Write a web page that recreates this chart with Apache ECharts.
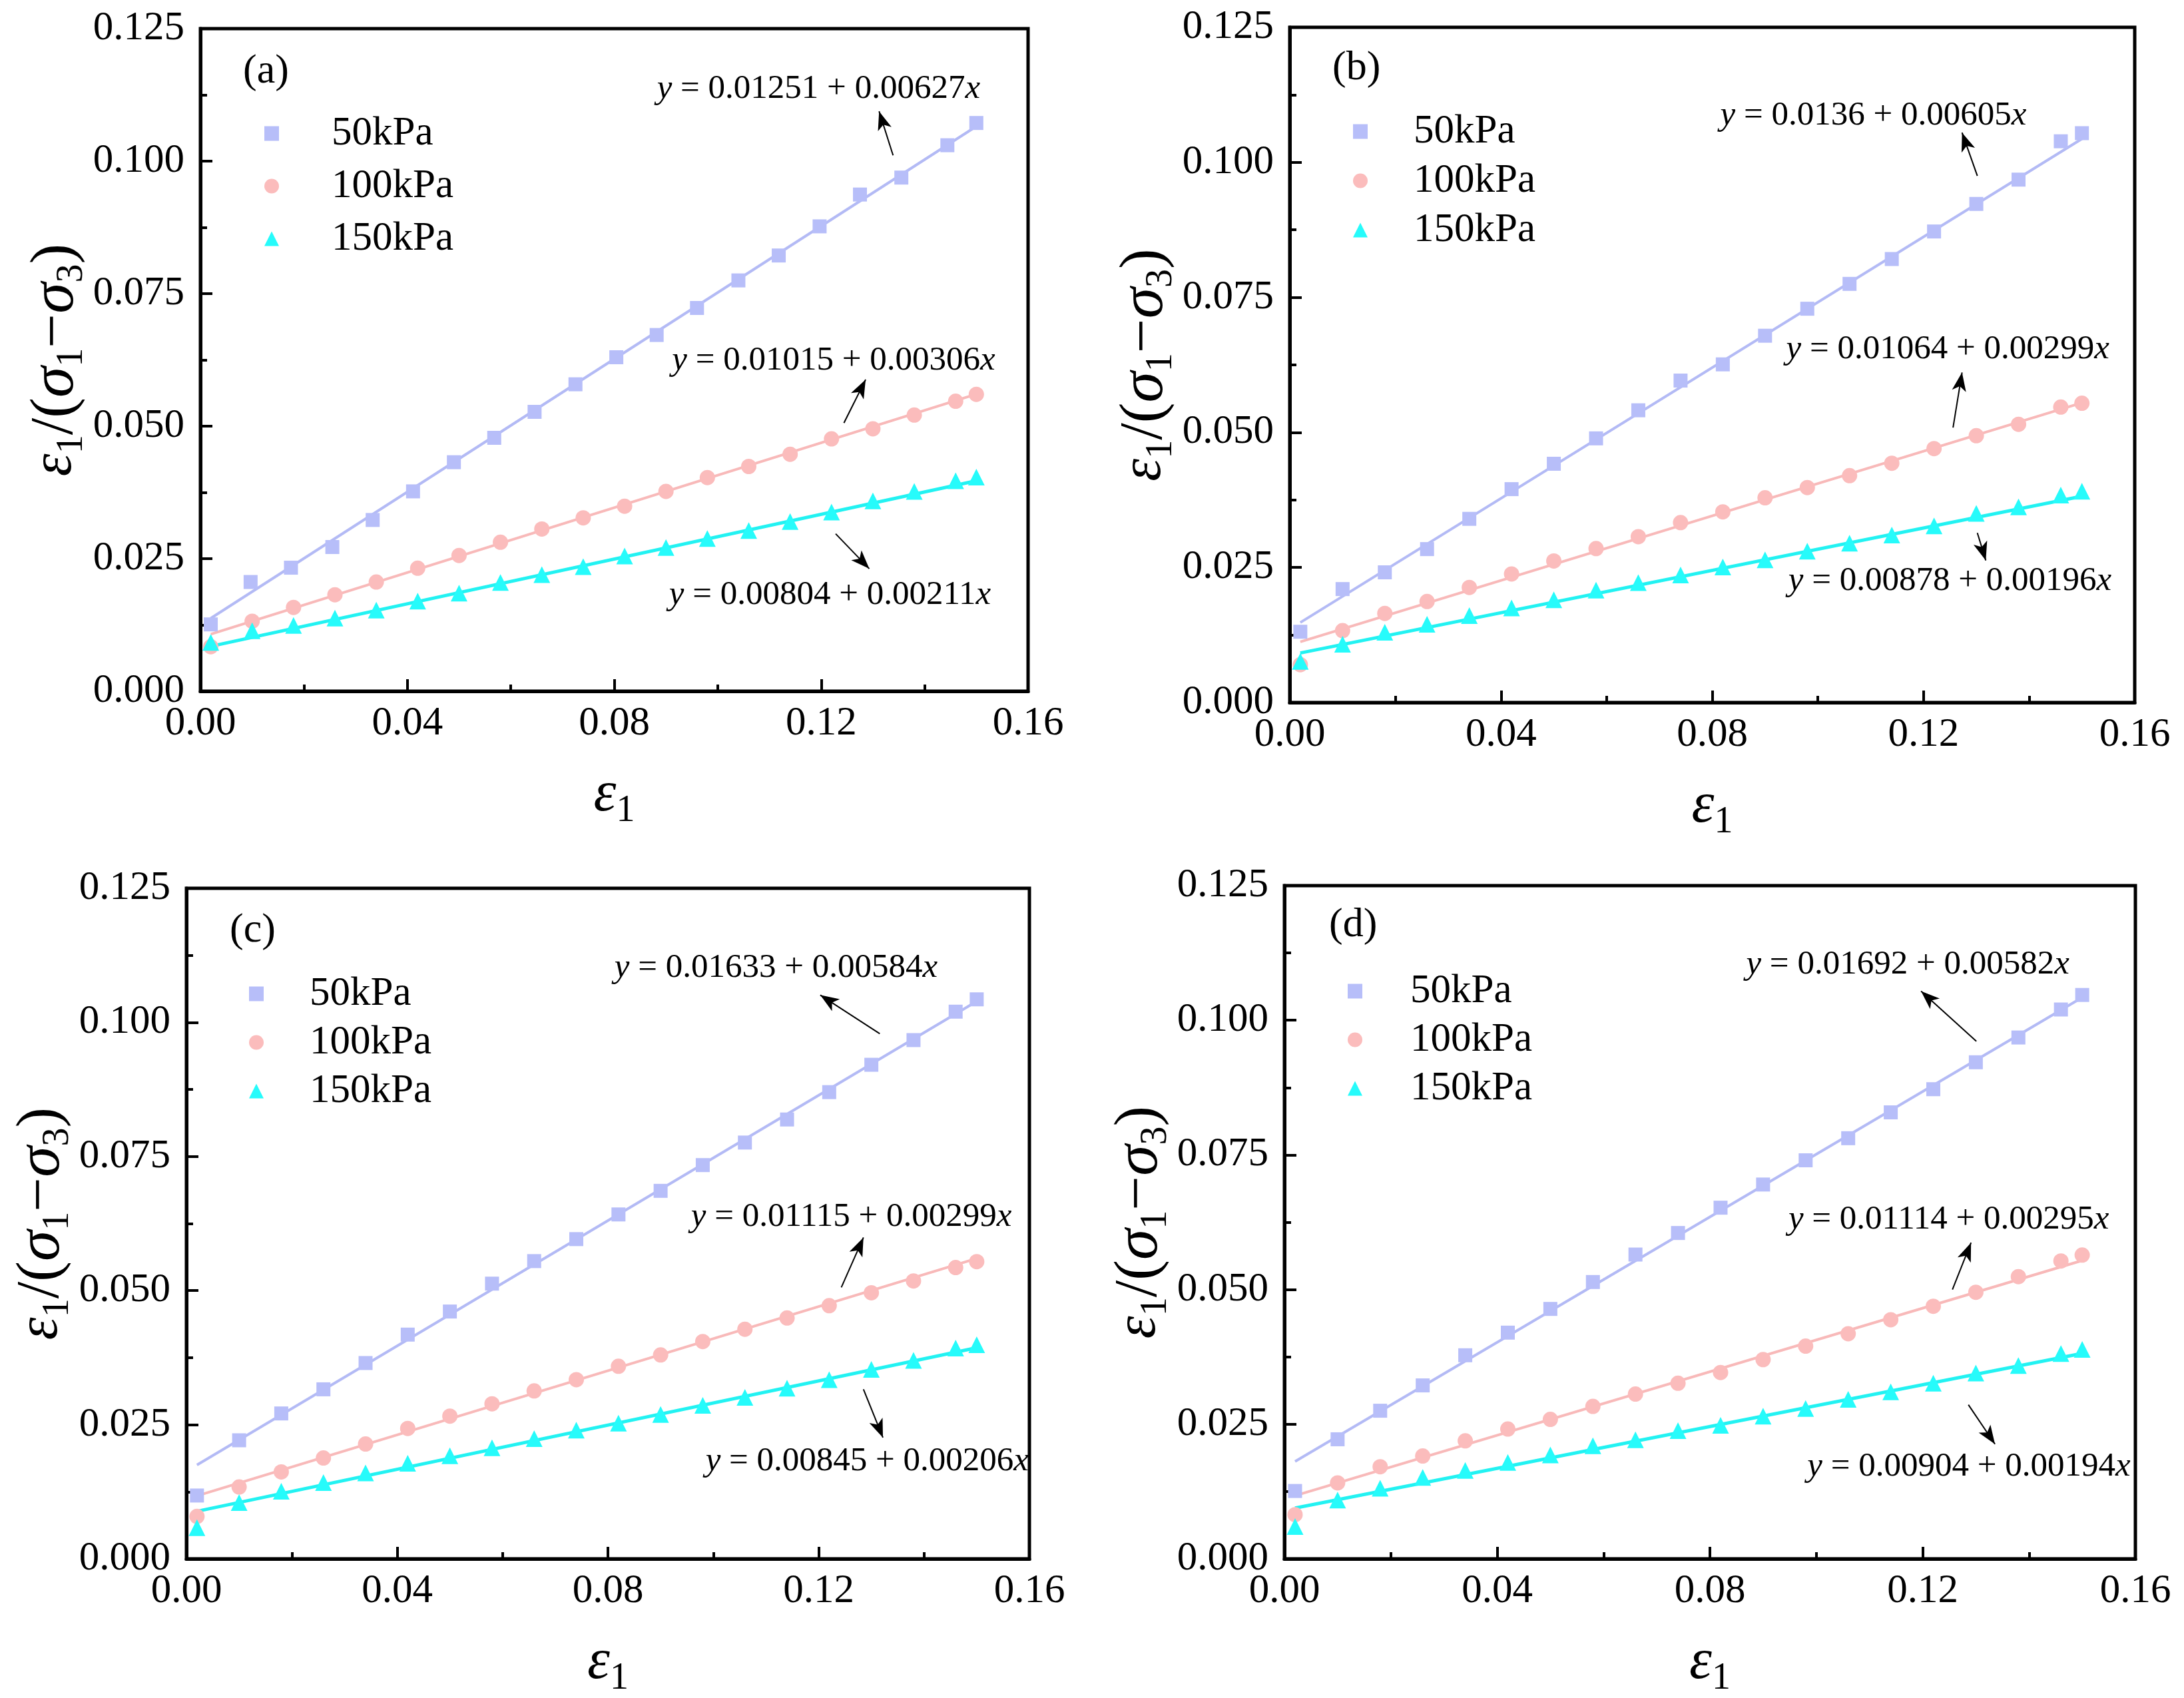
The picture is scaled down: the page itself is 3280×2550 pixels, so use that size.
<!DOCTYPE html>
<html><head><meta charset="utf-8">
<script src="https://cdn.jsdelivr.net/npm/echarts@6/dist/echarts.min.js"></script>
<style>html,body{margin:0;padding:0;background:#fff}#c{width:3280px;height:2550px}</style>
</head><body><div id="c"></div>
<script>
// ---------- data ----------
const X = [0.002,0.010,0.018,0.026,0.034,0.042,0.050,0.058,0.066,0.074,0.082,0.090,0.098,0.106,0.114,0.122,0.130,0.138,0.146,0.150];
const X_A50 = [0.0020,0.0097,0.0175,0.0255,0.0333,0.0411,0.0490,0.0568,0.0646,0.0725,0.0804,0.0882,0.0960,0.1040,0.1118,0.1197,0.1275,0.1355,0.1444,0.1500];

const A50  = [0.0126,0.0206,0.0233,0.0272,0.0323,0.0377,0.0432,0.0478,0.0527,0.0579,0.0630,0.0672,0.0723,0.0775,0.0822,0.0877,0.0937,0.0969,0.1030,0.1072];
const A100 = [0.0084,0.0132,0.0158,0.0182,0.0206,0.0232,0.0256,0.0281,0.0306,0.0327,0.0349,0.0377,0.0403,0.0424,0.0447,0.0476,0.0495,0.0521,0.0547,0.0560];
const A150 = [0.0092,0.0114,0.0124,0.0138,0.0153,0.0170,0.0185,0.0205,0.0220,0.0235,0.0255,0.0271,0.0288,0.0303,0.0320,0.0338,0.0359,0.0377,0.0397,0.0404];
const B50  = [0.0131,0.0210,0.0241,0.0284,0.0340,0.0395,0.0442,0.0489,0.0541,0.0596,0.0626,0.0679,0.0729,0.0775,0.0821,0.0872,0.0923,0.0968,0.1039,0.1054];
const B100 = [0.0070,0.0133,0.0165,0.0187,0.0213,0.0238,0.0262,0.0285,0.0307,0.0333,0.0353,0.0379,0.0398,0.0420,0.0443,0.0470,0.0494,0.0515,0.0547,0.0554];
const B150 = [0.0076,0.0108,0.0130,0.0145,0.0161,0.0175,0.0190,0.0208,0.0222,0.0236,0.0251,0.0264,0.0280,0.0295,0.0310,0.0327,0.0350,0.0362,0.0384,0.0391];
const C50  = [0.0118,0.0221,0.0271,0.0316,0.0365,0.0418,0.0461,0.0513,0.0555,0.0596,0.0642,0.0686,0.0734,0.0776,0.0819,0.0870,0.0921,0.0967,0.1020,0.1043];
const C100 = [0.0079,0.0134,0.0162,0.0188,0.0214,0.0243,0.0266,0.0289,0.0313,0.0334,0.0359,0.0380,0.0405,0.0428,0.0449,0.0472,0.0496,0.0518,0.0543,0.0554];
const C150 = [0.0058,0.0105,0.0126,0.0142,0.0160,0.0178,0.0192,0.0207,0.0224,0.0240,0.0253,0.0269,0.0286,0.0301,0.0318,0.0334,0.0353,0.0370,0.0393,0.0399];
const D50  = [0.0126,0.0222,0.0275,0.0322,0.0378,0.0420,0.0464,0.0514,0.0565,0.0605,0.0652,0.0695,0.0740,0.0781,0.0829,0.0872,0.0922,0.0968,0.1020,0.1047];
const D100 = [0.0082,0.0141,0.0171,0.0191,0.0219,0.0241,0.0259,0.0283,0.0306,0.0326,0.0346,0.0370,0.0395,0.0418,0.0444,0.0469,0.0495,0.0524,0.0553,0.0564];
const D150 = [0.0060,0.0109,0.0131,0.0151,0.0164,0.0179,0.0193,0.0210,0.0221,0.0238,0.0248,0.0265,0.0279,0.0296,0.0310,0.0326,0.0345,0.0359,0.0381,0.0389];

// fitted line end points [x, y]
const FIT_X = [0.002, 0.150];
const FIT_A = [[0.01376,0.10656],[0.01076,0.05605],[0.00846,0.03969]];
const FIT_B = [[0.01481,0.10435],[0.01124,0.05549],[0.00917,0.03818]];
const FIT_C = [[0.01750,0.10393],[0.01175,0.05600],[0.00886,0.03935]];
const FIT_D = [[0.01808,0.10422],[0.01173,0.05539],[0.00943,0.03814]];

// equation coefficients (text)
const EQ_A = [["0.01251","0.00627"],["0.01015","0.00306"],["0.00804","0.00211"]];
const EQ_B = [["0.0136","0.00605"],["0.01064","0.00299"],["0.00878","0.00196"]];
const EQ_C = [["0.01633","0.00584"],["0.01115","0.00299"],["0.00845","0.00206"]];
const EQ_D = [["0.01692","0.00582"],["0.01114","0.00295"],["0.00904","0.00194"]];

// annotation anchors in data units: equation centres and arrows [x0,y0,x1,y1]
const EQPOS_A = [[0.1195,0.1136],[0.1224,0.0623],[0.1217,0.0182]];
const EQPOS_B = [[0.1105,0.1087],[0.1246,0.0654],[0.1250,0.0225]];
const EQPOS_C = [[0.1119,0.1101],[0.1262,0.0637],[0.1292,0.0182]];
const EQPOS_D = [[0.1172,0.1103],[0.1249,0.0630],[0.1287,0.0171]];
const ARR_A = [[0.1339,0.1011,0.1312,0.1094],[0.1244,0.0506,0.1286,0.0588],[0.1228,0.0297,0.1293,0.0231]];
const ARR_B = [[0.1302,0.0975,0.1273,0.1055],[0.1256,0.0509,0.1273,0.0611],[0.1302,0.0314,0.1318,0.0263]];
const ARR_C = [[0.1316,0.0979,0.1203,0.1051],[0.1243,0.0506,0.1285,0.0599],[0.1285,0.0316,0.1322,0.0226]];
const ARR_D = [[0.1301,0.0961,0.1197,0.1054],[0.1256,0.0500,0.1291,0.0587],[0.1286,0.0286,0.1336,0.0213]];

const SERIES_NAMES = ["50kPa","100kPa","150kPa"];
const PANEL_LABELS = ["(a)","(b)","(c)","(d)"];
const X_TICKS = {min:0, max:0.16, interval:0.04};
const Y_TICKS = {min:0, max:0.125, interval:0.025};

// ---------- layout / style ----------
const FONT = "'Liberation Serif','Times New Roman',serif";
const COLORS = ['#b7bef9','#fbbcbc','#26fbfb'];
const LINE_COLORS = ['#b3baf5','#f8b9b9','#22f2f2'];
const SYMBOLS = ['rect','circle','triangle'];
const SYM_SIZE = [21,23,25];

const panels = [
  {x50:X_A50, ys:[A50,A100,A150], fit:FIT_A, eq:EQ_A, eqpos:EQPOS_A, arr:ARR_A,
   grid:{left:301, top:43, width:1243, height:995}, legend:{left:392, top:165, gap:18, pad:74}, label:{left:360, top:72}},
  {x50:X, ys:[B50,B100,B150], fit:FIT_B, eq:EQ_B, eqpos:EQPOS_B, arr:ARR_B,
   grid:{left:1937, top:41, width:1269, height:1014}, legend:{left:2027, top:162, gap:13, pad:64}, label:{left:1996, top:67}},
  {x50:X, ys:[C50,C100,C150], fit:FIT_C, eq:EQ_C, eqpos:EQPOS_C, arr:ARR_C,
   grid:{left:280, top:1334, width:1266, height:1014}, legend:{left:369, top:1457, gap:12, pad:64}, label:{left:340, top:1362}},
  {x50:X, ys:[D50,D100,D150], fit:FIT_D, eq:EQ_D, eqpos:EQPOS_D, arr:ARR_D,
   grid:{left:1929, top:1330, width:1278, height:1020}, legend:{left:2019, top:1453, gap:12, pad:67}, label:{left:1991, top:1354}}
];

const nameRich = {
  e:{fontFamily:FONT, fontStyle:'italic', fontSize:86, lineHeight:104, color:'#000'},
  g:{fontFamily:FONT, fontStyle:'italic', fontSize:94, lineHeight:104, color:'#000'},
  n:{fontFamily:FONT, fontSize:92, lineHeight:104, color:'#000'},
  s:{fontFamily:FONT, fontSize:56, lineHeight:50, verticalAlign:'bottom', color:'#000'}
};
const eqRich = {
  i:{fontFamily:FONT, fontStyle:'italic', fontSize:51, color:'#000'},
  t:{fontFamily:FONT, fontSize:51, color:'#000'}
};

const grids=[], xAxes=[], yAxes=[], legends=[], titles=[], series=[];
panels.forEach((p,i)=>{
  grids.push(Object.assign({show:true, borderColor:'#000', borderWidth:5, backgroundColor:'transparent'}, p.grid));
  const axCommon = {
    gridIndex:i, type:'value', nameLocation:'middle',
    axisLine:{show:true, onZero:false, lineStyle:{color:'#000', width:5}},
    axisTick:{show:true, inside:true, length:18, lineStyle:{color:'#000', width:4}},
    minorTick:{show:true, splitNumber:2, length:10, lineStyle:{color:'#000', width:4}},
    splitLine:{show:false}, minorSplitLine:{show:false},
    axisLabel:{fontFamily:FONT, fontSize:61, color:'#000', showMinLabel:true, showMaxLabel:true}
  };
  xAxes.push(Object.assign({}, axCommon, X_TICKS, {
    name:'{e|ε}{s|1}', nameGap:104, nameTextStyle:{rich:nameRich},
    axisLabel:Object.assign({}, axCommon.axisLabel, {margin:18, formatter:v=>v.toFixed(2)})
  }));
  yAxes.push(Object.assign({}, axCommon, Y_TICKS, {
    name:'{e|ε}{s|1}{n|/(}{g|σ}{s|1}{n|−}{g|σ}{s|3}{n|)}', nameGap:164, nameTextStyle:{rich:nameRich},
    axisLabel:Object.assign({}, axCommon.axisLabel, {margin:24, formatter:v=>v.toFixed(3)})
  }));
  legends.push({
    orient:'vertical', left:p.legend.left, top:p.legend.top, itemGap:p.legend.gap,
    itemWidth:22, itemHeight:22, data:SERIES_NAMES, selectedMode:false,
    textStyle:{fontFamily:FONT, fontSize:61, color:'#000', lineHeight:60, padding:[0,0,0,p.legend.pad]}
  });
  titles.push({text:PANEL_LABELS[i], left:p.label.left, top:p.label.top,
    textStyle:{fontFamily:FONT, fontSize:62, fontWeight:'normal', color:'#000'}});

  // fit lines
  for(let k=0;k<3;k++){
    const s = {
      type:'line', name:'fit'+i+'_'+k, xAxisIndex:i, yAxisIndex:i, symbol:'none', z:2,
      lineStyle:{color:LINE_COLORS[k], width:k===2?5:4},
      data: FIT_X.map((x,j)=>[x, p.fit[k][j]])
    };
    if(k===0){
      s.markLine = {
        silent:true, symbol:['none','arrow'], symbolSize:22, animation:false,
        lineStyle:{color:'#000', width:2, type:'solid'}, label:{show:false},
        emphasis:{disabled:true},
        data: p.arr.map(a=>[{coord:[a[0],a[1]]},{coord:[a[2],a[3]], symbolSize:[16,28]}])
      };
      s.markPoint = {
        symbol:'circle', symbolSize:1, silent:true, animation:false,
        itemStyle:{color:'rgba(0,0,0,0)'},
        label:{show:true, position:'inside', color:'#000', rich:eqRich},
        data: p.eq.map((e,m)=>({
          coord:p.eqpos[m],
          label:{show:true, position:'inside', rich:eqRich,
                 formatter:'{i|y}{t| = '+e[0]+' + '+e[1]+'}{i|x}'}
        }))
      };
    }
    series.push(s);
  }
  // scatter data
  for(let k=0;k<3;k++){
    const xs = k===0 ? p.x50 : X;
    series.push({
      type:'scatter', name:SERIES_NAMES[k], xAxisIndex:i, yAxisIndex:i, z:3,
      symbol:SYMBOLS[k], symbolSize:SYM_SIZE[k], itemStyle:{color:COLORS[k], opacity:1},
      data: xs.map((x,j)=>[x, p.ys[k][j]])
    });
  }
});

const chart = echarts.init(document.getElementById('c'), null, {renderer:'canvas'});
chart.setOption({
  animation:false, backgroundColor:'#fff',
  textStyle:{fontFamily:FONT},
  title:titles, grid:grids, xAxis:xAxes, yAxis:yAxes, legend:legends, series:series
});
</script></body></html>
